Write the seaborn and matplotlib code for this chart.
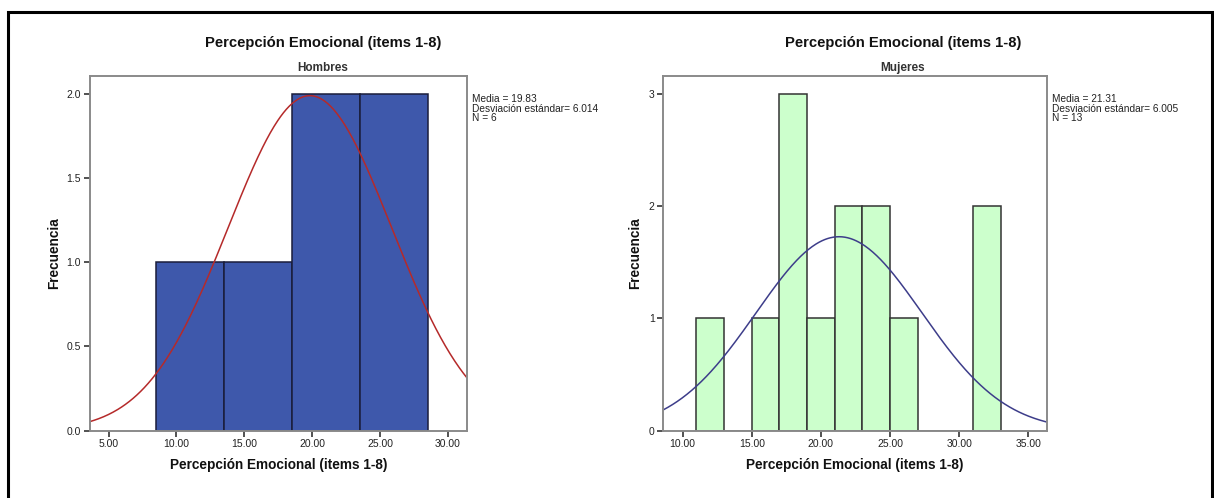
import numpy as np
import pandas as pd
import matplotlib
matplotlib.use("Agg")
import matplotlib.pyplot as plt
import seaborn as sns
from matplotlib.patches import Rectangle

# ---------------- data ----------------
main_title = "Percepción Emocional (items 1-8)"
xlabel = "Percepción Emocional (items 1-8)"
ylabel = "Frecuencia"

# Hombres
h_edges = [8.5, 13.5, 18.5, 23.5, 28.5]
h_counts = [1, 1, 2, 2]
h_mean = 19.83
h_sd = 6.014
h_n = 6
h_xticks = [5, 10, 15, 20, 25, 30]
h_yticks = [0.0, 0.5, 1.0, 1.5, 2.0]

# Mujeres
m_edges = [11, 13, 15, 17, 19, 21, 23, 25, 27, 29, 31, 33]
m_counts = [1, 0, 1, 3, 1, 2, 2, 1, 0, 0, 2]
m_mean = 21.31
m_sd = 6.005
m_n = 13
m_xticks = [10, 15, 20, 25, 30, 35]
m_yticks = [0, 1, 2, 3]

# ---------------- style ----------------
sns.set_style("white")
plt.rcParams['font.family'] = ['Liberation Sans', 'DejaVu Sans']

W, H = 1214, 498
fig = plt.figure(figsize=(W / 100, H / 100), dpi=100)

def px_axes(x0, y0, x1, y1):
    return fig.add_axes([x0 / W, 1 - y1 / H, (x1 - x0) / W, (y1 - y0) / H])

ax1 = px_axes(89.5, 76, 467, 430.5)
ax2 = px_axes(663, 76, 1047, 430.5)

def panel(ax, edges, counts, mean, sd, n, xlim, ylim, xticks, yticks, yfmt,
          face, edge, curve_col, subtitle, ylab_px, title_cx):
    e = np.array(edges, dtype=float)
    centers = (e[:-1] + e[1:]) / 2
    df = pd.DataFrame({"x": centers, "w": counts})
    sns.histplot(data=df, x="x", weights="w", bins=list(edges), ax=ax,
                 color=face, edgecolor=edge, linewidth=1.1, alpha=1)
    bw = e[1] - e[0]
    xs = np.linspace(xlim[0], xlim[1], 400)
    ys = n * bw * np.exp(-0.5 * ((xs - mean) / sd) ** 2) / (sd * np.sqrt(2 * np.pi))
    sns.lineplot(x=xs, y=ys, ax=ax, color=curve_col, linewidth=1.1)
    ax.set_xlim(*xlim)
    ax.set_ylim(*ylim)
    ax.set_xticks(xticks)
    ax.set_xticklabels([f"{t:.2f}" for t in xticks])
    ax.set_yticks(yticks)
    ax.set_yticklabels([yfmt.format(t) for t in yticks])
    ax.tick_params(axis="both", direction="out", length=4.5, width=1.2,
                   color="#333333", labelsize=7.5, labelcolor="#222222", pad=1.5,
                   bottom=True, left=True)
    for s in ax.spines.values():
        s.set_color("#8a8a8a")
        s.set_linewidth(1.4)
    ax.set_xlabel(xlabel, fontsize=9.8, fontweight="bold", color="#111111")
    ax.set_ylabel(ylabel, fontsize=9.8, fontweight="bold", color="#111111")
    bb = ax.get_position()
    axw = bb.width * W
    axh = bb.height * H
    ax.xaxis.set_label_coords(0.5, -(465 - 430.5) / axh)
    ax.xaxis.label.set_va("center")
    ax.yaxis.set_label_coords(-ylab_px / axw, 0.5)
    ax.yaxis.label.set_va("center")
    fig.text(title_cx / W, 1 - 68 / H, subtitle, ha="center", va="center",
             fontsize=8.5, fontweight="bold", color="#333333")
    fig.text(title_cx / W, 1 - 43 / H, main_title, ha="center", va="center",
             fontsize=10.6, fontweight="bold", color="#111111")
    ax.text(1 + 5 / axw, 1 - 18.5 / axh,
            f"Media = {mean:.2f}\nDesviación estándar= {sd:.3f}\nN = {n}",
            transform=ax.transAxes, ha="left", va="top", fontsize=7.3,
            color="#222222", linespacing=0.88)

panel(ax1, h_edges, h_counts, h_mean, h_sd, h_n, (3.6, 31.4), (0, 2.107),
      h_xticks, h_yticks, "{:.1f}", "#3E58AB", "#1A1D3A", "#B52A2A",
      "Hombres", 35, 323)
panel(ax2, m_edges, m_counts, m_mean, m_sd, m_n, (8.58, 36.35), (0, 3.16),
      m_xticks, m_yticks, "{:.0f}", "#CCFFCC", "#333333", "#3D3D8A",
      "Mujeres", 28, 903)

# outer frame
fig.patches.append(Rectangle((8 / W, -0.02), (1212 - 8) / W, 1 - 12 / H + 0.02,
                             transform=fig.transFigure, fill=False,
                             edgecolor="black", linewidth=2.2, zorder=10))

fig.savefig("out.png", dpi=100)
